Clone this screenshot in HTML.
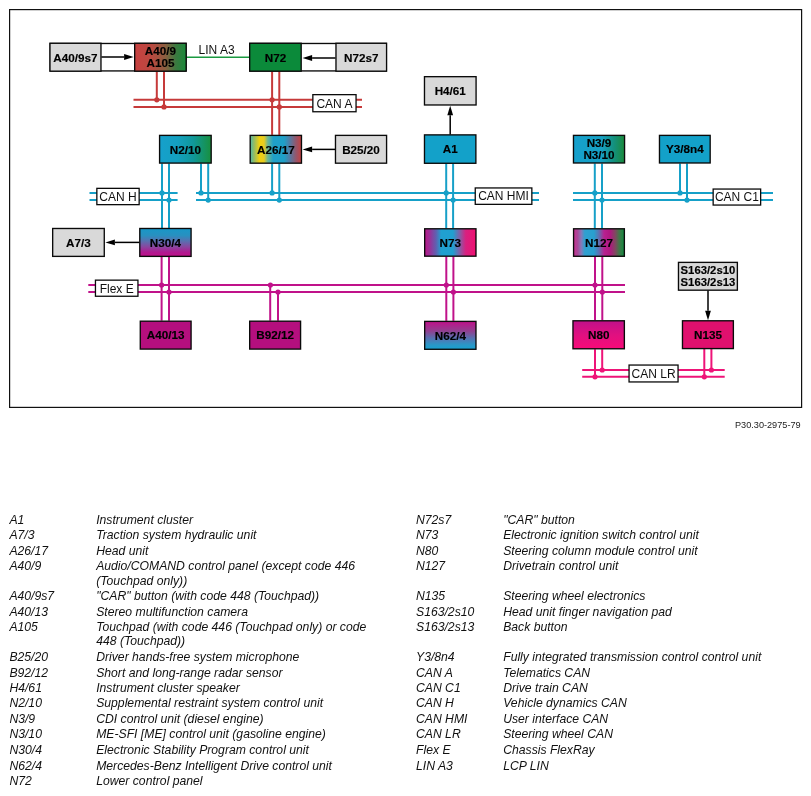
<!DOCTYPE html>
<html><head><meta charset="utf-8"><style>
svg{will-change:transform;}
html,body{margin:0;padding:0;background:#fff;width:811px;height:796px;overflow:hidden;position:relative;font-family:"Liberation Sans", sans-serif;}
</style></head><body>
<svg width="811" height="440" style="position:absolute;left:0;top:0" font-family='"Liberation Sans", sans-serif' fill="#111"><defs><linearGradient id="gA409" x1="0" y1="0" x2="1" y2="0"><stop offset="0" stop-color="#c84040"/><stop offset="0.35" stop-color="#b84a40"/><stop offset="0.6" stop-color="#8a6040"/><stop offset="0.8" stop-color="#3a7a40"/><stop offset="1" stop-color="#1a8a3a"/></linearGradient><linearGradient id="gA2617" x1="0" y1="0" x2="1" y2="0"><stop offset="0" stop-color="#50b8a8"/><stop offset="0.08" stop-color="#98bc60"/><stop offset="0.18" stop-color="#f0d010"/><stop offset="0.27" stop-color="#e8cc20"/><stop offset="0.34" stop-color="#70b890"/><stop offset="0.45" stop-color="#20a0c8"/><stop offset="0.66" stop-color="#1ea0c8"/><stop offset="0.78" stop-color="#5878a0"/><stop offset="0.9" stop-color="#985468"/><stop offset="1" stop-color="#c84040"/></linearGradient><linearGradient id="gN210" x1="0" y1="0" x2="1" y2="0"><stop offset="0" stop-color="#16a0cc"/><stop offset="0.35" stop-color="#14a0c0"/><stop offset="0.65" stop-color="#10989a"/><stop offset="1" stop-color="#18903e"/></linearGradient><linearGradient id="gN39" x1="0" y1="0" x2="1" y2="0"><stop offset="0" stop-color="#16a0cc"/><stop offset="0.55" stop-color="#16a0c4"/><stop offset="0.8" stop-color="#14907a"/><stop offset="1" stop-color="#1a8a3a"/></linearGradient><linearGradient id="gN304" x1="0" y1="0" x2="0" y2="1"><stop offset="0" stop-color="#1898c8"/><stop offset="0.25" stop-color="#2890c0"/><stop offset="0.45" stop-color="#5870b0"/><stop offset="0.65" stop-color="#8848a0"/><stop offset="0.85" stop-color="#b01890"/><stop offset="1" stop-color="#c01088"/></linearGradient><linearGradient id="gN73" x1="0" y1="0" x2="1" y2="0"><stop offset="0" stop-color="#b81888"/><stop offset="0.1" stop-color="#9a3098"/><stop offset="0.22" stop-color="#6060b0"/><stop offset="0.32" stop-color="#20a0d0"/><stop offset="0.55" stop-color="#20a0d0"/><stop offset="0.68" stop-color="#8060a8"/><stop offset="0.8" stop-color="#d82080"/><stop offset="1" stop-color="#f01070"/></linearGradient><linearGradient id="gN127" x1="0" y1="0" x2="1" y2="0"><stop offset="0" stop-color="#c83090"/><stop offset="0.08" stop-color="#a84898"/><stop offset="0.15" stop-color="#8878b8"/><stop offset="0.22" stop-color="#30a0d0"/><stop offset="0.4" stop-color="#28a0d0"/><stop offset="0.5" stop-color="#6070b0"/><stop offset="0.6" stop-color="#b82090"/><stop offset="0.72" stop-color="#b01880"/><stop offset="0.82" stop-color="#804860"/><stop offset="0.9" stop-color="#407848"/><stop offset="1" stop-color="#108a40"/></linearGradient><linearGradient id="gN624" x1="0" y1="0" x2="0" y2="1"><stop offset="0" stop-color="#c0108a"/><stop offset="0.35" stop-color="#904090"/><stop offset="0.6" stop-color="#5870b0"/><stop offset="0.85" stop-color="#2898c8"/><stop offset="1" stop-color="#18a0d0"/></linearGradient><linearGradient id="gN80" x1="0" y1="0" x2="0" y2="1"><stop offset="0" stop-color="#c0108a"/><stop offset="0.5" stop-color="#e01080"/><stop offset="1" stop-color="#f80a78"/></linearGradient></defs><rect x="9.6" y="9.6" width="792" height="397.8" fill="none" stroke="#111" stroke-width="1.2"/><line x1="133.5" y1="99.8" x2="362" y2="99.8" stroke="#c63a3a" stroke-width="2"/><line x1="133.5" y1="106.9" x2="362" y2="106.9" stroke="#c63a3a" stroke-width="2"/><line x1="156.8" y1="71.6" x2="156.8" y2="99.8" stroke="#c63a3a" stroke-width="2"/><line x1="164" y1="71.6" x2="164" y2="106.9" stroke="#c63a3a" stroke-width="2"/><line x1="272.1" y1="71.6" x2="272.1" y2="134.9" stroke="#c63a3a" stroke-width="2"/><line x1="279.3" y1="71.6" x2="279.3" y2="134.9" stroke="#c63a3a" stroke-width="2"/><circle cx="156.8" cy="99.8" r="2.6" fill="#c63a3a"/><circle cx="164" cy="106.9" r="2.6" fill="#c63a3a"/><circle cx="272.1" cy="99.8" r="2.6" fill="#c63a3a"/><circle cx="279.3" cy="106.9" r="2.6" fill="#c63a3a"/><rect x="312.85" y="94.65" width="43.20" height="17.10" fill="#fff" stroke="#0a0a0a" stroke-width="1.3"/><text x="334.45" y="107.50" text-anchor="middle" font-size="12">CAN A</text><line x1="89.5" y1="192.9" x2="177.6" y2="192.9" stroke="#16a0c8" stroke-width="2"/><line x1="89.5" y1="200.1" x2="177.6" y2="200.1" stroke="#16a0c8" stroke-width="2"/><line x1="196" y1="192.9" x2="539" y2="192.9" stroke="#16a0c8" stroke-width="2"/><line x1="196" y1="200.1" x2="539" y2="200.1" stroke="#16a0c8" stroke-width="2"/><line x1="573" y1="192.9" x2="773" y2="192.9" stroke="#16a0c8" stroke-width="2"/><line x1="573" y1="200.1" x2="773" y2="200.1" stroke="#16a0c8" stroke-width="2"/><line x1="162" y1="163.5" x2="162" y2="228" stroke="#16a0c8" stroke-width="2"/><line x1="169" y1="163.5" x2="169" y2="228" stroke="#16a0c8" stroke-width="2"/><circle cx="162" cy="192.9" r="2.6" fill="#16a0c8"/><circle cx="169" cy="200.1" r="2.6" fill="#16a0c8"/><line x1="201" y1="163.5" x2="201" y2="192.9" stroke="#16a0c8" stroke-width="2"/><line x1="208.2" y1="163.5" x2="208.2" y2="200.1" stroke="#16a0c8" stroke-width="2"/><circle cx="201" cy="192.9" r="2.6" fill="#16a0c8"/><circle cx="208.2" cy="200.1" r="2.6" fill="#16a0c8"/><line x1="272.1" y1="163.6" x2="272.1" y2="192.9" stroke="#16a0c8" stroke-width="2"/><line x1="279.3" y1="163.6" x2="279.3" y2="200.1" stroke="#16a0c8" stroke-width="2"/><circle cx="272.1" cy="192.9" r="2.6" fill="#16a0c8"/><circle cx="279.3" cy="200.1" r="2.6" fill="#16a0c8"/><line x1="446.2" y1="163.7" x2="446.2" y2="228.3" stroke="#16a0c8" stroke-width="2"/><line x1="453.1" y1="163.7" x2="453.1" y2="228.3" stroke="#16a0c8" stroke-width="2"/><circle cx="446.2" cy="192.9" r="2.6" fill="#16a0c8"/><circle cx="453.1" cy="200.1" r="2.6" fill="#16a0c8"/><line x1="594.8" y1="163.4" x2="594.8" y2="228.3" stroke="#16a0c8" stroke-width="2"/><line x1="602" y1="163.4" x2="602" y2="228.3" stroke="#16a0c8" stroke-width="2"/><circle cx="594.8" cy="192.9" r="2.6" fill="#16a0c8"/><circle cx="602" cy="200.1" r="2.6" fill="#16a0c8"/><line x1="680" y1="163.4" x2="680" y2="192.9" stroke="#16a0c8" stroke-width="2"/><line x1="687" y1="163.4" x2="687" y2="200.1" stroke="#16a0c8" stroke-width="2"/><circle cx="680" cy="192.9" r="2.6" fill="#16a0c8"/><circle cx="687" cy="200.1" r="2.6" fill="#16a0c8"/><rect x="96.85" y="188.35" width="42.30" height="16.30" fill="#fff" stroke="#0a0a0a" stroke-width="1.3"/><text x="118.00" y="200.80" text-anchor="middle" font-size="12">CAN H</text><rect x="475.25" y="187.95" width="56.60" height="16.40" fill="#fff" stroke="#0a0a0a" stroke-width="1.3"/><text x="503.55" y="200.45" text-anchor="middle" font-size="12">CAN HMI</text><rect x="713.15" y="189.05" width="47.50" height="16.00" fill="#fff" stroke="#0a0a0a" stroke-width="1.3"/><text x="736.90" y="201.35" text-anchor="middle" font-size="12">CAN C1</text><line x1="88.3" y1="285" x2="625" y2="285" stroke="#c0128a" stroke-width="2"/><line x1="88.3" y1="292" x2="625" y2="292" stroke="#c0128a" stroke-width="2"/><line x1="161.6" y1="256.8" x2="161.6" y2="320.7" stroke="#c0128a" stroke-width="2"/><line x1="169" y1="256.8" x2="169" y2="320.7" stroke="#c0128a" stroke-width="2"/><circle cx="161.6" cy="285" r="2.6" fill="#c0128a"/><circle cx="169" cy="292" r="2.6" fill="#c0128a"/><line x1="270.2" y1="285" x2="270.2" y2="320.7" stroke="#c0128a" stroke-width="2"/><line x1="278" y1="292" x2="278" y2="320.7" stroke="#c0128a" stroke-width="2"/><circle cx="270.4" cy="285" r="2.6" fill="#c0128a"/><circle cx="278" cy="292" r="2.6" fill="#c0128a"/><line x1="446.3" y1="256.6" x2="446.3" y2="320.9" stroke="#c0128a" stroke-width="2"/><line x1="453.4" y1="256.6" x2="453.4" y2="320.9" stroke="#c0128a" stroke-width="2"/><circle cx="446.3" cy="285" r="2.6" fill="#c0128a"/><circle cx="453.4" cy="292" r="2.6" fill="#c0128a"/><line x1="595" y1="256.7" x2="595" y2="320.3" stroke="#c0128a" stroke-width="2"/><line x1="602.3" y1="256.7" x2="602.3" y2="320.3" stroke="#c0128a" stroke-width="2"/><circle cx="595" cy="285" r="2.6" fill="#c0128a"/><circle cx="602.3" cy="292" r="2.6" fill="#c0128a"/><rect x="95.45" y="280.15" width="42.50" height="16.10" fill="#fff" stroke="#0a0a0a" stroke-width="1.3"/><text x="116.70" y="292.50" text-anchor="middle" font-size="12">Flex E</text><line x1="582.2" y1="370" x2="724.7" y2="370" stroke="#ee1478" stroke-width="2"/><line x1="582.2" y1="376.8" x2="724.7" y2="376.8" stroke="#ee1478" stroke-width="2"/><line x1="595" y1="349.2" x2="595" y2="376.8" stroke="#ee1478" stroke-width="2"/><line x1="602.2" y1="349.2" x2="602.2" y2="370" stroke="#ee1478" stroke-width="2"/><circle cx="602.2" cy="370" r="2.6" fill="#ee1478"/><circle cx="595" cy="376.8" r="2.6" fill="#ee1478"/><line x1="704.3" y1="349" x2="704.3" y2="376.8" stroke="#ee1478" stroke-width="2"/><line x1="711.4" y1="349" x2="711.4" y2="370" stroke="#ee1478" stroke-width="2"/><circle cx="711.4" cy="370" r="2.6" fill="#ee1478"/><circle cx="704.3" cy="376.8" r="2.6" fill="#ee1478"/><rect x="629.05" y="365.05" width="49.00" height="16.90" fill="#fff" stroke="#0a0a0a" stroke-width="1.3"/><text x="653.55" y="377.80" text-anchor="middle" font-size="12">CAN LR</text><line x1="186.6" y1="57.2" x2="249.2" y2="57.2" stroke="#1a9a40" stroke-width="1.6"/><text x="198.6" y="53.8" font-size="12">LIN A3</text><rect x="50.175" y="43.474999999999994" width="135.75" height="27.449999999999996" fill="#fff" stroke="#0a0a0a" stroke-width="1.35"/><rect x="49.97" y="43.27" width="51.00" height="27.90" fill="#d9d9d9" stroke="#0a0a0a" stroke-width="1.35"/><text x="75.47" y="61.52" text-anchor="middle" font-weight="bold" font-size="11.7" fill="#000" stroke="#000" stroke-width="0.15">A40/9s7</text><rect x="134.68" y="43.27" width="51.50" height="27.90" fill="url(#gA409)" stroke="#0a0a0a" stroke-width="1.35"/><text x="160.43" y="54.62" text-anchor="middle" font-weight="bold" font-size="11.7" fill="#000" stroke="#000" stroke-width="0.15">A40/9</text><text x="160.43" y="67.22" text-anchor="middle" font-weight="bold" font-size="11.7" fill="#000" stroke="#000" stroke-width="0.15">A105</text><line x1="101.4" y1="57.0" x2="124.10" y2="57.00" stroke="#000" stroke-width="1.5"/><polygon points="133.6,57.0 124.10,59.90 124.10,54.10" fill="#000"/><rect x="249.875" y="43.474999999999994" width="136.45000000000002" height="27.449999999999996" fill="#fff" stroke="#0a0a0a" stroke-width="1.35"/><rect x="249.68" y="43.27" width="51.50" height="27.90" fill="#0b8a3a" stroke="#0a0a0a" stroke-width="1.35"/><text x="275.43" y="61.52" text-anchor="middle" font-weight="bold" font-size="11.7" fill="#000" stroke="#000" stroke-width="0.15">N72</text><rect x="335.98" y="43.27" width="50.60" height="27.90" fill="#d9d9d9" stroke="#0a0a0a" stroke-width="1.35"/><text x="361.27" y="61.52" text-anchor="middle" font-weight="bold" font-size="11.7" fill="#000" stroke="#000" stroke-width="0.15">N72s7</text><line x1="335.5" y1="58.0" x2="312.10" y2="58.00" stroke="#000" stroke-width="1.5"/><polygon points="302.6,58.0 312.10,55.10 312.10,60.90" fill="#000"/><rect x="250.18" y="135.38" width="51.30" height="27.80" fill="url(#gA2617)" stroke="#0a0a0a" stroke-width="1.35"/><text x="275.82" y="153.58" text-anchor="middle" font-weight="bold" font-size="11.7" fill="#000" stroke="#000" stroke-width="0.15">A26/17</text><rect x="335.48" y="135.38" width="51.10" height="27.80" fill="#d9d9d9" stroke="#0a0a0a" stroke-width="1.35"/><text x="361.02" y="153.58" text-anchor="middle" font-weight="bold" font-size="11.7" fill="#000" stroke="#000" stroke-width="0.15">B25/20</text><line x1="335" y1="149.4" x2="312.10" y2="149.40" stroke="#000" stroke-width="1.5"/><polygon points="302.6,149.4 312.10,146.50 312.10,152.30" fill="#000"/><rect x="159.58" y="135.38" width="51.60" height="27.70" fill="url(#gN210)" stroke="#0a0a0a" stroke-width="1.35"/><text x="185.38" y="153.53" text-anchor="middle" font-weight="bold" font-size="11.7" fill="#000" stroke="#000" stroke-width="0.15">N2/10</text><rect x="424.48" y="134.88" width="51.40" height="28.40" fill="#13a1c9" stroke="#0a0a0a" stroke-width="1.35"/><text x="450.18" y="153.38" text-anchor="middle" font-weight="bold" font-size="11.7" fill="#000" stroke="#000" stroke-width="0.15">A1</text><rect x="424.48" y="76.67" width="51.60" height="28.30" fill="#d9d9d9" stroke="#0a0a0a" stroke-width="1.35"/><text x="450.27" y="95.12" text-anchor="middle" font-weight="bold" font-size="11.7" fill="#000" stroke="#000" stroke-width="0.15">H4/61</text><line x1="450.2" y1="134.4" x2="450.20" y2="115.30" stroke="#000" stroke-width="1.5"/><polygon points="450.2,105.8 453.10,115.30 447.30,115.30" fill="#000"/><rect x="573.47" y="135.38" width="51.10" height="27.60" fill="url(#gN39)" stroke="#0a0a0a" stroke-width="1.35"/><text x="599.02" y="146.58" text-anchor="middle" font-weight="bold" font-size="11.7" fill="#000" stroke="#000" stroke-width="0.15">N3/9</text><text x="599.02" y="159.18" text-anchor="middle" font-weight="bold" font-size="11.7" fill="#000" stroke="#000" stroke-width="0.15">N3/10</text><rect x="659.47" y="135.38" width="50.70" height="27.60" fill="#13a1c9" stroke="#0a0a0a" stroke-width="1.35"/><text x="684.83" y="153.48" text-anchor="middle" font-weight="bold" font-size="11.7" fill="#000" stroke="#000" stroke-width="0.15">Y3/8n4</text><rect x="52.67" y="228.48" width="51.60" height="27.90" fill="#d9d9d9" stroke="#0a0a0a" stroke-width="1.35"/><text x="78.47" y="246.73" text-anchor="middle" font-weight="bold" font-size="11.7" fill="#000" stroke="#000" stroke-width="0.15">A7/3</text><rect x="139.78" y="228.48" width="51.30" height="27.90" fill="url(#gN304)" stroke="#0a0a0a" stroke-width="1.35"/><text x="165.43" y="246.73" text-anchor="middle" font-weight="bold" font-size="11.7" fill="#000" stroke="#000" stroke-width="0.15">N30/4</text><line x1="139.3" y1="242.4" x2="114.90" y2="242.40" stroke="#000" stroke-width="1.5"/><polygon points="105.4,242.4 114.90,239.50 114.90,245.30" fill="#000"/><rect x="424.68" y="228.78" width="51.30" height="27.40" fill="url(#gN73)" stroke="#0a0a0a" stroke-width="1.35"/><text x="450.32" y="246.78" text-anchor="middle" font-weight="bold" font-size="11.7" fill="#000" stroke="#000" stroke-width="0.15">N73</text><rect x="573.57" y="228.78" width="50.80" height="27.50" fill="url(#gN127)" stroke="#0a0a0a" stroke-width="1.35"/><text x="598.97" y="246.83" text-anchor="middle" font-weight="bold" font-size="11.7" fill="#000" stroke="#000" stroke-width="0.15">N127</text><rect x="140.28" y="321.18" width="50.80" height="27.90" fill="#b40f7e" stroke="#0a0a0a" stroke-width="1.35"/><text x="165.68" y="339.43" text-anchor="middle" font-weight="bold" font-size="11.7" fill="#000" stroke="#000" stroke-width="0.15">A40/13</text><rect x="249.68" y="321.18" width="50.90" height="27.90" fill="#b40f7e" stroke="#0a0a0a" stroke-width="1.35"/><text x="275.12" y="339.43" text-anchor="middle" font-weight="bold" font-size="11.7" fill="#000" stroke="#000" stroke-width="0.15">B92/12</text><rect x="424.68" y="321.38" width="51.30" height="27.90" fill="url(#gN624)" stroke="#0a0a0a" stroke-width="1.35"/><text x="450.32" y="339.62" text-anchor="middle" font-weight="bold" font-size="11.7" fill="#000" stroke="#000" stroke-width="0.15">N62/4</text><rect x="572.97" y="320.78" width="51.40" height="28.00" fill="url(#gN80)" stroke="#0a0a0a" stroke-width="1.35"/><text x="598.67" y="339.07" text-anchor="middle" font-weight="bold" font-size="11.7" fill="#000" stroke="#000" stroke-width="0.15">N80</text><rect x="682.47" y="320.78" width="50.90" height="27.80" fill="#e0106e" stroke="#0a0a0a" stroke-width="1.35"/><text x="707.92" y="338.98" text-anchor="middle" font-weight="bold" font-size="11.7" fill="#000" stroke="#000" stroke-width="0.15">N135</text><rect x="678.47" y="262.38" width="58.90" height="27.80" fill="#d9d9d9" stroke="#0a0a0a" stroke-width="1.35"/><text x="707.92" y="273.67" text-anchor="middle" font-weight="bold" font-size="11.3" fill="#000" stroke="#000" stroke-width="0.15">S163/2s10</text><text x="707.92" y="286.27" text-anchor="middle" font-weight="bold" font-size="11.3" fill="#000" stroke="#000" stroke-width="0.15">S163/2s13</text><line x1="708" y1="290.6" x2="708.00" y2="310.70" stroke="#000" stroke-width="1.5"/><polygon points="708,320.2 705.10,310.70 710.90,310.70" fill="#000"/><text x="735" y="428" font-size="9.9" textLength="65.6" lengthAdjust="spacingAndGlyphs" fill="#222">P30.30-2975-79</text></svg>
<svg width="811" height="356" viewBox="0 440 811 356" style="position:absolute;left:0;top:440px" font-family='"Liberation Sans", sans-serif' font-style="italic" font-size="12.2" fill="#111"><text x="9.4" y="523.80">A1</text><text x="96.2" y="523.80">Instrument cluster</text><text x="9.4" y="538.90">A7/3</text><text x="96.2" y="538.90">Traction system hydraulic unit</text><text x="9.4" y="554.50">A26/17</text><text x="96.2" y="554.50">Head unit</text><text x="9.4" y="569.80">A40/9</text><text x="96.2" y="569.80">Audio/COMAND control panel (except code 446</text><text x="96.2" y="584.50">(Touchpad only))</text><text x="9.4" y="599.50">A40/9s7</text><text x="96.2" y="599.50">"CAR" button (with code 448 (Touchpad))</text><text x="9.4" y="615.60">A40/13</text><text x="96.2" y="615.60">Stereo multifunction camera</text><text x="9.4" y="630.60">A105</text><text x="96.2" y="630.60">Touchpad (with code 446 (Touchpad only) or code</text><text x="96.2" y="645.30">448 (Touchpad))</text><text x="9.4" y="660.80">B25/20</text><text x="96.2" y="660.80">Driver hands-free system microphone</text><text x="9.4" y="676.50">B92/12</text><text x="96.2" y="676.50">Short and long-range radar sensor</text><text x="9.4" y="691.50">H4/61</text><text x="96.2" y="691.50">Instrument cluster speaker</text><text x="9.4" y="706.60">N2/10</text><text x="96.2" y="706.60">Supplemental restraint system control unit</text><text x="9.4" y="722.60">N3/9</text><text x="96.2" y="722.60">CDI control unit (diesel engine)</text><text x="9.4" y="738.40">N3/10</text><text x="96.2" y="738.40">ME-SFI [ME] control unit (gasoline engine)</text><text x="9.4" y="754.40">N30/4</text><text x="96.2" y="754.40">Electronic Stability Program control unit</text><text x="9.4" y="769.60">N62/4</text><text x="96.2" y="769.60">Mercedes-Benz Intelligent Drive control unit</text><text x="9.4" y="784.60">N72</text><text x="96.2" y="784.60">Lower control panel</text><text x="416.0" y="523.80">N72s7</text><text x="503.2" y="523.80">"CAR" button</text><text x="416.0" y="538.90">N73</text><text x="503.2" y="538.90">Electronic ignition switch control unit</text><text x="416.0" y="554.50">N80</text><text x="503.2" y="554.50">Steering column module control unit</text><text x="416.0" y="569.80">N127</text><text x="503.2" y="569.80">Drivetrain control unit</text><text x="416.0" y="599.50">N135</text><text x="503.2" y="599.50">Steering wheel electronics</text><text x="416.0" y="615.60">S163/2s10</text><text x="503.2" y="615.60">Head unit finger navigation pad</text><text x="416.0" y="630.60">S163/2s13</text><text x="503.2" y="630.60">Back button</text><text x="416.0" y="660.80">Y3/8n4</text><text x="503.2" y="660.80">Fully integrated transmission control control unit</text><text x="416.0" y="676.50">CAN A</text><text x="503.2" y="676.50">Telematics CAN</text><text x="416.0" y="691.50">CAN C1</text><text x="503.2" y="691.50">Drive train CAN</text><text x="416.0" y="706.60">CAN H</text><text x="503.2" y="706.60">Vehicle dynamics CAN</text><text x="416.0" y="722.60">CAN HMI</text><text x="503.2" y="722.60">User interface CAN</text><text x="416.0" y="738.40">CAN LR</text><text x="503.2" y="738.40">Steering wheel CAN</text><text x="416.0" y="754.40">Flex E</text><text x="503.2" y="754.40">Chassis FlexRay</text><text x="416.0" y="769.60">LIN A3</text><text x="503.2" y="769.60">LCP LIN</text></svg>
</body></html>
